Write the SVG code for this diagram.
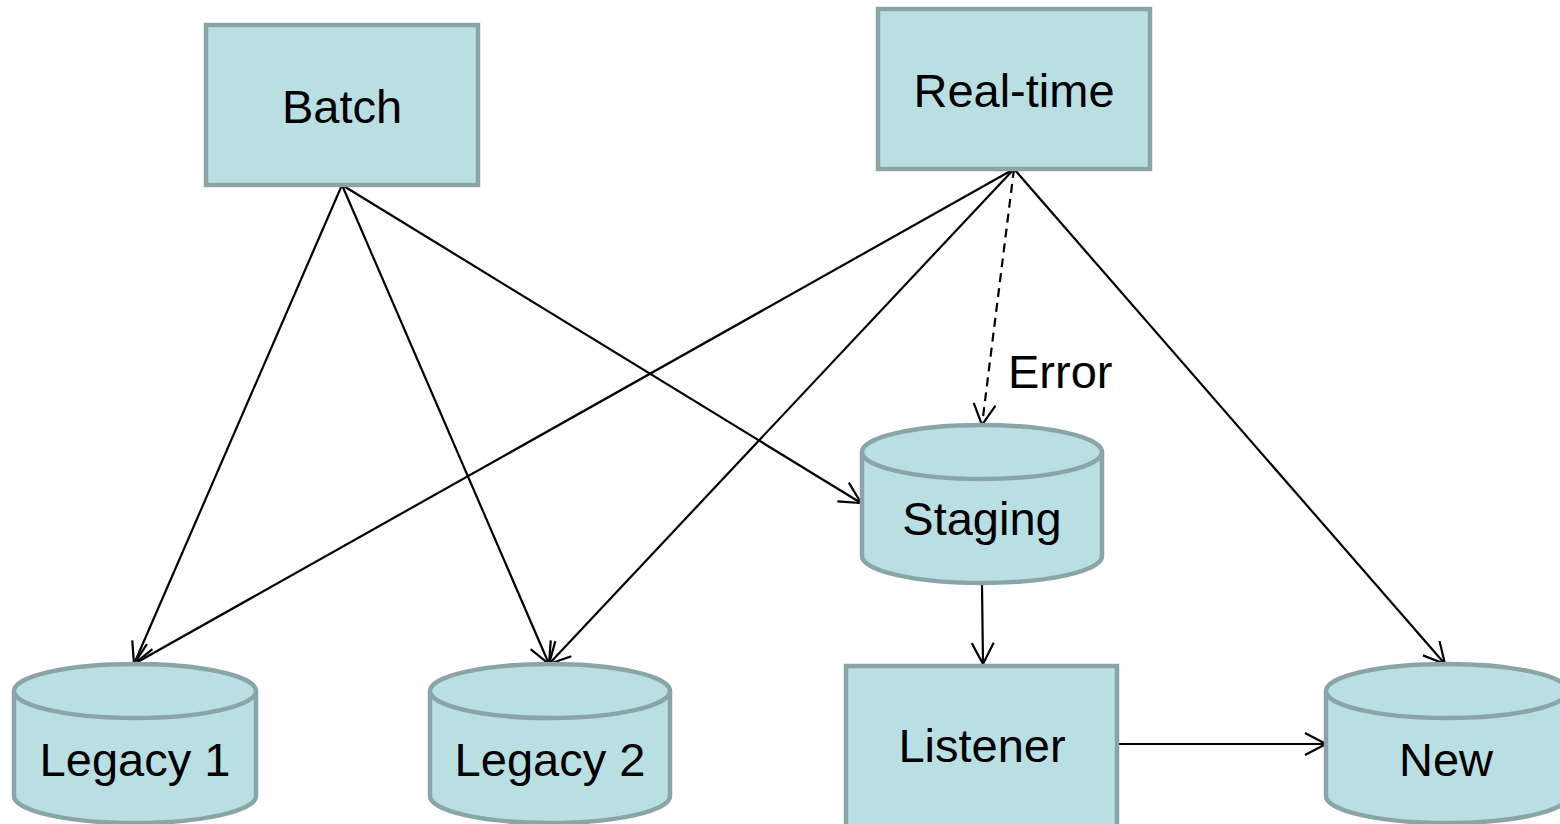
<svg xmlns="http://www.w3.org/2000/svg" width="1560" height="824" viewBox="0 0 1560 824">
  <defs>
    <style>
      .box { fill: #B9DFE3; stroke: #8AA5A8; stroke-width: 4.5; }
      .cyl { fill: #B9DFE3; stroke: #8AA5A8; stroke-width: 4.5; }
      .lbl { font-family: "Liberation Sans", Arial, sans-serif; font-size: 47px; fill: #000; text-anchor: middle; }
      .edge { stroke: #000; stroke-width: 2.2; fill: none; marker-end: url(#arrow); }
      .dash { stroke-dasharray: 9 6; }
    </style>
    <marker id="arrow" markerUnits="userSpaceOnUse" markerWidth="26" markerHeight="26" viewBox="0 0 26 26" refX="23" refY="13" orient="auto">
      <path d="M2,2 L23,13 L2,24" fill="none" stroke="#000" stroke-width="2.2"/>
    </marker>
  </defs>
  <rect width="1560" height="824" fill="#fff"/>

  <g id="connectors">
    <line class="edge" x1="342" y1="185" x2="134" y2="664"/>
    <line class="edge" x1="342" y1="185" x2="549" y2="664"/>
    <line class="edge" x1="342" y1="185" x2="861" y2="503"/>
    <line class="edge" x1="1014" y1="169" x2="134" y2="664"/>
    <line class="edge" x1="1014" y1="169" x2="549" y2="664"/>
    <line class="edge dash" x1="1014" y1="169" x2="982" y2="425"/>
    <line class="edge" x1="1014" y1="169" x2="1445" y2="664"/>
    <line class="edge" x1="982" y1="585" x2="983" y2="664"/>
    <line class="edge" x1="1118" y1="744" x2="1326" y2="744"/>
  </g>

  <g id="batch">
    <rect class="box" x="206" y="25" width="272" height="160"/>
    <text class="lbl" x="342" y="123">Batch</text>
  </g>

  <g id="realtime">
    <rect class="box" x="878" y="9" width="272" height="160"/>
    <text class="lbl" x="1014" y="107">Real-time</text>
  </g>

  <g id="error-label">
    <text x="1008" y="388" font-family="Liberation Sans, Arial, sans-serif" font-size="47" fill="#000">Error</text>
  </g>

  <g id="staging">
    <path class="cyl" d="M862,452 A120,27 0 0 1 1102,452 L1102,556 A120,27 0 0 1 862,556 Z"/>
    <path class="cyl" d="M862,452 A120,27 0 0 0 1102,452" fill="none"/>
    <text class="lbl" x="982" y="535">Staging</text>
  </g>

  <g id="legacy1">
    <path class="cyl" d="M14,691 A121,27 0 0 1 256,691 L256,796 A121,27 0 0 1 14,796 Z"/>
    <path class="cyl" d="M14,691 A121,27 0 0 0 256,691" fill="none"/>
    <text class="lbl" x="135" y="776">Legacy 1</text>
  </g>

  <g id="legacy2">
    <path class="cyl" d="M430,691 A120,27 0 0 1 670,691 L670,796 A120,27 0 0 1 430,796 Z"/>
    <path class="cyl" d="M430,691 A120,27 0 0 0 670,691" fill="none"/>
    <text class="lbl" x="550" y="776">Legacy 2</text>
  </g>

  <g id="listener">
    <rect class="box" x="846" y="666" width="271" height="162"/>
    <text class="lbl" x="982" y="762">Listener</text>
  </g>

  <g id="new">
    <path class="cyl" d="M1326,691 A121,27 0 0 1 1568,691 L1568,796 A121,27 0 0 1 1326,796 Z"/>
    <path class="cyl" d="M1326,691 A121,27 0 0 0 1568,691" fill="none"/>
    <text class="lbl" x="1446" y="776">New</text>
  </g>
</svg>
